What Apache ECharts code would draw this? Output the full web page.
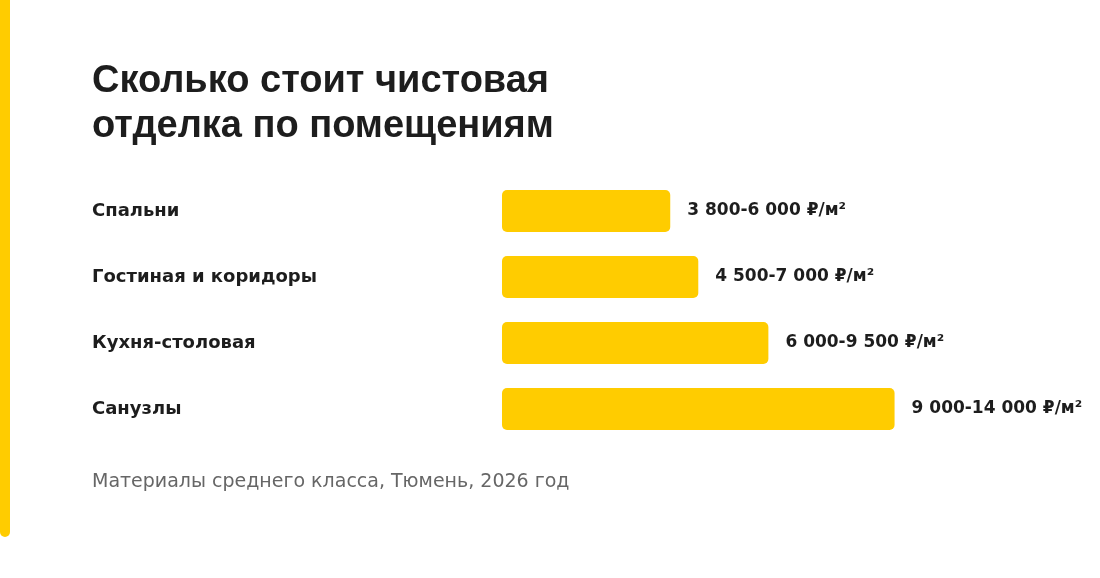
<!DOCTYPE html>
<html>
<head>
<meta charset="utf-8">
<script src="https://cdn.jsdelivr.net/npm/echarts@6/dist/echarts.min.js"></script>
<style>
  html, body { margin: 0; padding: 0; background: #fff; }
  #chart { width: 1100px; height: 578px; }
</style>
</head>
<body>
<div id="chart"></div>
<script>
// данные
var rooms = ['Спальни', 'Гостиная и коридоры', 'Кухня-столовая', 'Санузлы'];
var priceMin = [3800, 4500, 6000, 9000];
var priceMax = [6000, 7000, 9500, 14000];
var priceLabels = ['3 800-6 000 ₽/м²', '4 500-7 000 ₽/м²', '6 000-9 500 ₽/м²', '9 000-14 000 ₽/м²'];

var titleText = 'Сколько стоит чистовая\nотделка по помещениям';
var noteText = 'Материалы среднего класса, Тюмень, 2026 год';

var titleFont = '"Liberation Sans", Arial, sans-serif';
var font = '"DejaVu Sans", "Liberation Sans", sans-serif';
var yellow = '#ffcc00';

var chart = echarts.init(document.getElementById('chart'));

var option = {
  backgroundColor: '#fff',
  textStyle: { fontFamily: font },
  title: [
    {
      text: titleText,
      left: 87,
      top: 54,
      textStyle: {
        fontFamily: titleFont,
        fontSize: 38,
        fontWeight: 'bold',
        lineHeight: 45,
        color: '#1d1d1d'
      }
    },
    {
      text: noteText,
      left: 87,
      top: 468,
      textStyle: {
        fontFamily: font,
        fontSize: 19,
        fontWeight: 'normal',
        color: '#666666'
      }
    }
  ],
  graphic: [
    {
      type: 'rect',
      shape: { x: 0, y: -10, width: 10, height: 547, r: 5 },
      style: { fill: yellow }
    }
  ],
  grid: {
    left: 502,
    right: 40,
    top: 178,
    bottom: 136
  },
  xAxis: {
    type: 'value',
    min: 0,
    max: 19900,
    show: false
  },
  yAxis: {
    type: 'category',
    inverse: true,
    data: rooms,
    axisLine: { show: false },
    axisTick: { show: false },
    splitLine: { show: false },
    axisLabel: {
      align: 'left',
      margin: 410,
      fontFamily: font,
      fontSize: 18,
      fontWeight: 'bold',
      color: '#1d1d1d'
    }
  },
  series: [{
    type: 'bar',
    data: priceMax,
    barWidth: 42,
    silent: true,
    itemStyle: {
      color: yellow,
      borderRadius: 5
    },
    label: {
      show: true,
      position: 'right',
      distance: 17,
      fontFamily: font,
      fontSize: 17,
      fontWeight: 'bold',
      color: '#1d1d1d',
      formatter: function (p) {
        return priceLabels[p.dataIndex];
      }
    }
  }]
};

chart.setOption(option);
</script>
</body>
</html>
